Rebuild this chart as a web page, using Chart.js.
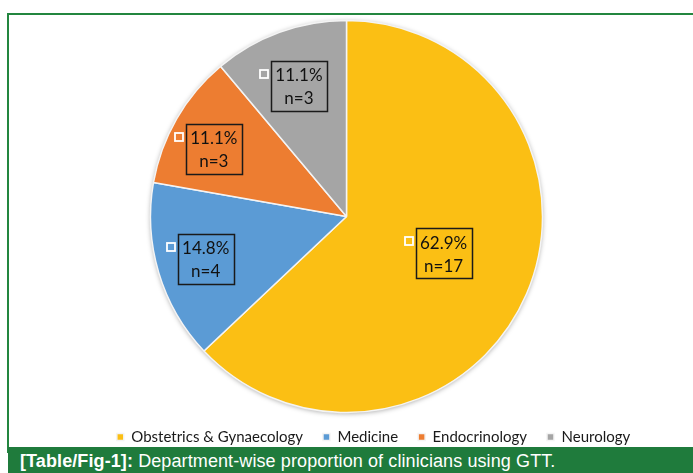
<!DOCTYPE html>
<html>
<head>
<meta charset="utf-8">
<script src="https://cdn.jsdelivr.net/npm/chart.js@4"></script>
<style>
  body { margin: 0; background: #fff; }
  #wrap { position: relative; width: 693px; height: 473px; overflow: hidden; }
  #frame { position: absolute; left: 7px; top: 13px; width: 700px; height: 440px;
           border-top: 2px solid #23863f; border-left: 2px solid #23863f; box-sizing: border-box; }
  #caption { position: absolute; left: 8px; top: 447px; width: 700px; height: 26px;
             background: #1f7b3c; color: #fff; font-family: "Liberation Sans", Arial, sans-serif;
             font-size: 18px; line-height: 28px; padding-left: 12px; box-sizing: border-box; white-space: nowrap; letter-spacing: 0.1px; }
  #caption b { font-weight: bold; }
  canvas { position: absolute; left: 0; top: 0; }
</style>
</head>
<body>
<div id="wrap">
  <div id="frame"></div>
  <canvas id="pie" width="693" height="473"></canvas>
  <div id="caption"><b>[Table/Fig-1]:</b> Department-wise proportion of clinicians using GTT.</div>
</div>
<script>
// departments and clinician counts
let departments = ['Obstetrics & Gynaecology', 'Medicine', 'Endocrinology', 'Neurology'];
let clinicianCounts = [17, 4, 3, 3];
let sliceColors = ['#fbbf14', '#5b9bd5', '#ed7d31', '#a5a5a5'];

// how far out (fraction of radius) each data label box sits, and a small angle nudge (deg)
let labelRadius = [0.53, 0.75, 0.76, 0.71];
let labelNudge = [-2.5, 0, -3, 0];

// soft shadow round the pie
const pieShadow = {
    id: 'pieShadow',
    beforeDatasetsDraw(chart) {
        let arc = chart.getDatasetMeta(0).data[0];
        if (!arc) return;
        let ctx = chart.ctx;
        ctx.save();
        ctx.shadowColor = 'rgba(0,0,0,0.35)';
        ctx.shadowBlur = 5;
        ctx.shadowOffsetY = 1;
        ctx.fillStyle = '#fff';
        ctx.beginPath();
        ctx.arc(arc.x, arc.y, arc.outerRadius, 0, Math.PI * 2);
        ctx.fill();
        ctx.restore();
    }
};

// legend in the original sits a bit right of the pie centre
const legendShift = {
    id: 'legendShift',
    afterLayout(chart) {
        chart.legend.left += 27;
        chart.legend.right += 27;
    }
};

// boxed "xx.x% / n=.." labels with the little white marker square
const boxLabels = {
    id: 'boxLabels',
    afterDatasetsDraw(chart) {
        let ctx = chart.ctx;
        let total = clinicianCounts.reduce((a, b) => a + b, 0);
        chart.getDatasetMeta(0).data.forEach((arc, i) => {
            let mid = (arc.startAngle + arc.endAngle) / 2 + labelNudge[i] * Math.PI / 180;
            let r = arc.outerRadius * labelRadius[i];
            let cx = arc.x + Math.cos(mid) * r;
            let cy = arc.y + Math.sin(mid) * r;
            let pct = (Math.floor(clinicianCounts[i] / total * 1000) / 10).toFixed(1) + '%';
            let w = 56, h = 50;
            let bx = Math.round(cx - w / 2), by = Math.round(cy - h / 2);
            ctx.save();
            ctx.strokeStyle = '#1a1a1a';
            ctx.lineWidth = 1.5;
            ctx.strokeRect(bx + 0.5, by + 0.5, w, h);
            ctx.strokeStyle = '#fff';
            ctx.lineWidth = 1.8;
            ctx.strokeRect(bx - 11, by + 9, 8, 8);
            ctx.fillStyle = '#111';
            ctx.font = '17px Lato, "Open Sans", sans-serif';
            ctx.textAlign = 'center';
            ctx.textBaseline = 'middle';
            ctx.fillText(pct, cx, cy - 10);
            ctx.fillText('n=' + clinicianCounts[i], cx, cy + 13);
            ctx.restore();
        });
    }
};

let pieChart = new Chart(document.querySelector('#pie').getContext('2d'), {
    type: 'pie',
    data: {
        labels: departments,
        datasets: [{
            data: clinicianCounts,
            backgroundColor: sliceColors,
            borderColor: '#f4f4f4',
            borderWidth: 1.5,
            radius: 196,
        }]
    },
    options: {
        responsive: false,
        animation: false,
        layout: { padding: { top: 23.5, bottom: 18.5, left: 0, right: 0 } },
        plugins: {
            legend: {
                position: 'bottom',
                labels: {
                    boxWidth: 7,
                    boxHeight: 7,
                    padding: 20,
                    color: '#1a1a1a',
                    font: { family: 'Lato, "Open Sans", sans-serif', size: 15 },
                }
            },
            tooltip: { enabled: false },
        }
    },
    plugins: [pieShadow, legendShift, boxLabels]
});
</script>
</body>
</html>
